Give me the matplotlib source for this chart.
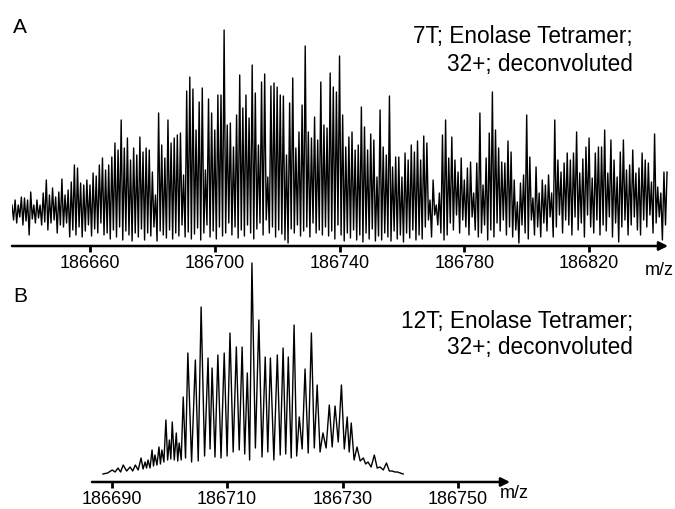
import numpy as np
import matplotlib
matplotlib.use("Agg")
import matplotlib.pyplot as plt

plt.rcParams['font.family'] = ['Liberation Sans', 'DejaVu Sans']

# ---------------- data ----------------
# Panel A: isotopic peaks every 1 Da starting at this mass
mz_start_a = 186635.0
peaks_a = [40, 45, 40, 48, 47, 45, 53, 40, 45, 40,
           52, 65, 50, 57, 48, 53, 66, 50, 55, 63,
           80, 77, 62, 60, 65, 60, 72, 69, 80, 87,
           75, 80, 88, 102, 95, 125, 97, 107, 85, 97,
           90, 108, 93, 97, 95, 73, 50, 132, 100, 87,
           125, 102, 107, 110, 112, 70, 154, 168, 156, 115,
           143, 157, 75, 146, 132, 115, 150, 150, 215, 120,
           122, 98, 130, 170, 137, 150, 127, 180, 152, 100,
           163, 171, 68, 159, 162, 158, 150, 149, 90, 142,
           167, 97, 113, 140, 199, 113, 107, 128, 105, 163,
           120, 117, 172, 158, 153, 189, 130, 98, 108, 113,
           95, 100, 138, 118, 95, 111, 105, 68, 135, 98,
           90, 149, 78, 88, 88, 68, 92, 85, 100, 93,
           104, 85, 109, 102, 45, 65, 40, 52, 110, 125,
           87, 108, 85, 73, 87, 65, 77, 83, 52, 82,
           132, 60, 87, 112, 153, 115, 97, 83, 82, 104,
           93, 65, 43, 62, 70, 130, 88, 47, 78, 52,
           65, 60, 70, 52, 125, 85, 73, 82, 92, 85,
           92, 113, 72, 86, 98, 107, 67, 92, 98, 98,
           115, 72, 105, 85, 68, 93, 105, 75, 80, 95,
           72, 77, 92, 85, 82, 63, 111, 58, 52, 73, 73]
troughs_a = [25, 22, 28, 20, 24, 10, 26, 22, 27, 20,
             23, 15, 22, 25, 12, 20, 18, 22, 8, 15,
             10, 18, 8, 14, 20, 9, 16, 12, 22, 10,
             12, 6, 15, 8, 18, 5, 14, 10, 4, 12,
             8, 16, 5, 12, 9, 18, 4, 14, 10, 7,
             15, 6, 12, 9, 20, 8, 13, 6, 11, 17,
             5, 12, 20, 8, 14, 6, 18, 9, 12, 22,
             10, 18, 7, 15, 9, 20, 12, 6, 16, 22,
             10, 25, 12, 18, 8, 15, 11, 5, 2, 16,
             12, 20, 9, 14, 18, 8, 22, 12, 15, 10,
             18, 9, 14, 6, 20, 10, 4, 12, 7, 15,
             5, 10, 3, 12, 6, 16, 4, 9, 5, 12,
             8, 4, 14, 6, 10, 3, 12, 7, 15, 5,
             10, 6, 18, 25, 8, 30, 20, 12, 5, 10,
             22, 15, 30, 12, 25, 18, 10, 28, 15, 8,
             12, 20, 5, 15, 8, 22, 14, 25, 10, 18,
             8, 15, 2, 20, 12, 6, 25, 10, 18, 8,
             22, 14, 28, 8, 18, 30, 12, 25, 20, 10,
             28, 15, 22, 8, 30, 18, 12, 25, 10, 20,
             14, 28, 8, 22, 3, 18, 25, 10, 20, 28,
             15, 10, 25, 18, 30, 12, 22, 28, 5, 20]

# Panel B: peak positions (m/z) and heights, trough heights between them
mz_b = [186688.5, 186690.1, 186691.1, 186692.0, 186693.2, 186694.1, 186695.1,
        186695.8, 186696.3, 186697.0, 186697.5, 186698.2, 186698.7, 186699.4,
        186700.0, 186700.5, 186701.2, 186701.7, 186702.4, 186703.2, 186704.5,
        186705.5, 186706.7, 186707.4, 186708.4, 186709.5, 186710.5, 186711.6,
        186712.6, 186713.5, 186714.3, 186715.5, 186716.6, 186717.5, 186718.7,
        186719.7, 186720.6, 186721.6, 186722.5, 186723.5, 186724.6, 186725.6,
        186726.6, 186727.7, 186728.7, 186729.8, 186730.8, 186731.5, 186732.5,
        186733.6, 186734.4, 186735.5, 186736.5, 186737.6, 186738.6, 186739.5,
        186740.5]
peaks_b = [0, 4, 6, 9, 7, 9, 16, 12, 14, 24, 19, 27, 24, 54, 34, 52, 41, 31,
           77, 121, 114, 167, 116, 106, 119, 121, 141, 127, 127, 101, 211, 154,
           117, 116, 119, 126, 117, 149, 57, 105, 141, 89, 41, 69, 68, 89, 57,
           51, 27, 16, 12, 19, 7, 11, 3, 2, 0]
troughs_b = [1, 2, 2, 3, 3, 4, 5, 6, 6, 8, 9, 10, 12, 14, 15, 14, 13, 14,
             16, 12, 13, 18, 25, 17, 16, 18, 22, 24, 20, 14, 26, 17, 22, 14,
             19, 20, 16, 18, 25, 21, 26, 22, 26, 27, 32, 25, 22, 14, 13, 10,
             7, 6, 4, 3, 2, 1]

ticks_a = [186660, 186700, 186740, 186780, 186820]
ticks_b = [186690, 186710, 186730, 186750]
title_a = ["7T; Enolase Tetramer;", "32+; deconvoluted"]
title_b = ["12T; Enolase Tetramer;", "32+; deconvoluted"]


def trace(mz_peaks, peaks, troughs):
    xs, ys = [], []
    for i, (m, p) in enumerate(zip(mz_peaks, peaks)):
        xs.append(m)
        ys.append(p)
        if i < len(troughs):
            xs.append((m + mz_peaks[i + 1]) / 2.0)
            ys.append(troughs[i])
    return np.array(xs), np.array(ys)


W, H = 675, 509
fig = plt.figure(figsize=(W / 100, H / 100), dpi=100)


def px_axes(x0, x1, ytop, ybot):
    return fig.add_axes([x0 / W, 1 - ybot / H, (x1 - x0) / W, (ybot - ytop) / H])


def style_axis(ax, ticks, xlim, ylim):
    ax.set_xlim(*xlim)
    ax.set_ylim(*ylim)
    for s in ax.spines.values():
        s.set_visible(False)
    ax.set_yticks([])
    ax.set_xticks(ticks)
    ax.set_xticklabels([str(t) for t in ticks], fontsize=13)
    ax.tick_params(axis='x', direction='out', length=4, width=2, pad=2.5,
                   colors='black')
    ax.patch.set_alpha(0)
    ax.annotate('', xy=(1.0, 0), xytext=(0, 0), xycoords='axes fraction',
                textcoords='axes fraction',
                arrowprops=dict(arrowstyle='-|>', lw=1.8, color='black',
                                shrinkA=0, shrinkB=0, mutation_scale=13),
                annotation_clip=False)


# Panel A
axA = px_axes(12, 668, 20, 246)
mz_peaks_a = mz_start_a + np.arange(len(peaks_a))
xa, ya = trace(list(mz_peaks_a), peaks_a, troughs_a)
axA.plot(xa, ya, color='black', lw=1.0)
style_axis(axA, ticks_a, (186635.0, 186845.3), (-1, 225))

# Panel B
axB = px_axes(92, 510, 255, 482)
xb, yb = trace(mz_b, peaks_b, troughs_b)
axB.plot(xb, yb, color='black', lw=1.0)
style_axis(axB, ticks_b, (186686.6, 186759.0), (-8, 219))


def ftext(x, y, s, **kw):
    fig.text(x / W, 1 - y / H, s, va='baseline', **kw)


ftext(13, 33, "A", fontsize=15)
ftext(13, 302, "B", fontsize=15)
ftext(633, 43, title_a[0], fontsize=16.3, ha='right')
ftext(633, 71, title_a[1], fontsize=16.3, ha='right')
ftext(633, 328, title_b[0], fontsize=16.3, ha='right')
ftext(633, 354, title_b[1], fontsize=16.3, ha='right')
ftext(645, 275, "m/z", fontsize=13, ha='left')
ftext(500, 498, "m/z", fontsize=13, ha='left')

fig.savefig("out.png", dpi=100)
